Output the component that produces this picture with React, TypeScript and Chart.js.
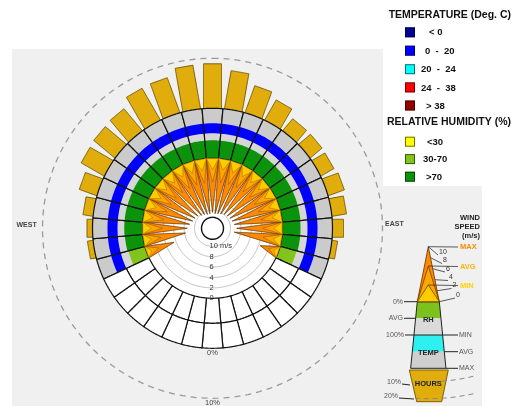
import React, { useEffect, useRef } from 'react';
import { Chart, registerables } from 'chart.js';
Chart.register(...registerables);

// ---------------- DATA ----------------
// bearings (deg clockwise from north) of the sectors that carry data
const SECTOR_BEARINGS = [250, 260, 270, 280, 290, 300, 310, 320, 330, 340, 350, 0, 10, 20, 30, 40, 50, 60, 70, 80, 90, 100, 110];
// share of hours (%) per sector
const HOURS_PCT = [0, 1.1, 1.1, 2.0, 3.7, 5.3, 5.5, 5.7, 7.3, 7.4, 8.8, 8.9, 7.7, 5.7, 4.6, 3.1, 3.1, 3.0, 3.4, 2.9, 2.2, 1.1, 0];
// wind speed (m/s)
const WIND_MAX = [5.6, 8.2, 8.6, 9.0, 9.4, 9.6, 9.8, 10.2, 10.4, 10.6, 10.6, 10.4, 10.6, 10.5, 10.3, 10.0, 9.8, 9.6, 9.4, 9.2, 8.8, 9.2, 3.7];
const WIND_AVG = [2.4, 3.4, 3.8, 4.0, 4.2, 4.3, 4.4, 4.5, 4.6, 4.6, 4.7, 4.6, 4.6, 4.5, 4.4, 4.3, 4.2, 4.2, 4.1, 4.0, 3.8, 3.6, 2.0];
const WIND_MIN = [1.0, 1.5, 1.7, 1.8, 1.9, 2.0, 2.0, 2.1, 2.1, 2.2, 2.2, 2.2, 2.1, 2.1, 2.0, 2.0, 1.9, 1.9, 1.9, 1.8, 1.7, 1.6, 0.9];
// relative humidity average (%)
const RH_AVG = [68, 72, 73, 73, 72, 72, 72, 71, 71, 71, 72, 72, 72, 72, 72, 73, 73, 73, 73, 73, 72, 72, 68];
// dry bulb temperature (deg C)
const TEMP_MIN = [6, 6, 6, 6, 6, 6, 6, 6, 6, 6, 6, 6, 6, 6, 6, 6, 6, 6, 6, 6, 6, 6, 6];
const TEMP_AVG = [11, 11, 11, 11, 11, 11, 11, 11, 11, 11, 11, 11, 11, 11, 11, 11, 11, 11, 11, 11, 11, 11, 11];
const TEMP_MAX = [18.5, 18.5, 18.5, 18.5, 18.5, 18.5, 18.5, 18.5, 18.5, 18.5, 18.5, 18.5, 18.5, 18.5, 18.5, 18.5, 18.5, 18.5, 18.5, 18.5, 18.5, 18.5, 18.5];
// sectors without data
const EMPTY_BEARINGS = [120, 130, 140, 150, 160, 170, 180, 190, 200, 210, 220, 230, 240];
// axis ticks
const SPEED_TICKS = [0, 2, 4, 6, 8, 10];
const PCT_TICKS = [0, 10];
// legends
const TEMP_LEGEND = ['< 0', '0  -  20', '20  -  24', '24  -  38', '> 38'];
const RH_LEGEND = ['<30', '30-70', '>70'];

// ---------------- LAYOUT / STYLE ----------------
const W = 531, H = 406;
const CX = 212.5, CY = 228.3;
const R_WIND = 70, SPEED_PX = 5.2, R_RH_OUT = 95, R_TEMP_OUT = 120, PCT_PX = 5, BAR_W = 18, R_HUB = 11;
const HALF = 5;
const TEMP_COLORS = ['#000099', '#0000ff', '#00ffff', '#ff0000', '#990000'];
const RH_COLORS = ['#ffff00', '#80c41c', '#0b940b'];
const TEMP_LEG_X = [429, 425, 421, 421, 426];
const RH_LEG_X = [427, 423, 426];
const FONT = '"Liberation Sans", Arial, sans-serif';

const speedR = (s: number) => R_WIND - SPEED_PX * s;
const pctR = (p: number) => R_TEMP_OUT + PCT_PX * p;
const rhR = (h: number) => R_WIND + (R_RH_OUT - R_WIND) * h / 100;
const tempR = (mn: number, av: number, mx: number) => R_RH_OUT + (R_TEMP_OUT - R_RH_OUT) * (av - mn) / (mx - mn);
const tempColor = (t: number) => (t < 0 ? TEMP_COLORS[0] : t < 20 ? TEMP_COLORS[1] : t < 24 ? TEMP_COLORS[2] : t < 38 ? TEMP_COLORS[3] : TEMP_COLORS[4]);
const rhColor = (h: number) => (h < 30 ? RH_COLORS[0] : h <= 70 ? RH_COLORS[1] : RH_COLORS[2]);

const toXY = (b: number, r: number) => {
  const a = (b * Math.PI) / 180;
  return { x: r * Math.sin(a), y: r * Math.cos(a) };
};
const arcPts = (b0: number, b1: number, r: number, steps: number) => {
  const out: any[] = [];
  for (let i = 0; i <= steps; i++) out.push(toXY(b0 + ((b1 - b0) * i) / steps, r));
  return out;
};
const cellPts = (b: number, r0: number, r1: number) => [...arcPts(b - HALF, b + HALF, r0, 6), ...arcPts(b + HALF, b - HALF, r1, 6)];

function buildDatasets() {
  const ds: any[] = [];
  const add = (pts: any[], o: any) => {
    ds.push({
      data: o.open ? pts : [...pts, pts[0]],
      fill: o.fill ? 'shape' : false,
      backgroundColor: o.fill || 'transparent',
      borderColor: o.stroke || 'transparent',
      borderWidth: o.width || 0,
      borderDash: o.dash || [1, 0],
      borderJoinStyle: 'round',
      pointRadius: 0,
      pointHoverRadius: 0,
      tension: 0,
      clip: false,
    });
  };
  // 10% dashed circle
  add(arcPts(0, 360, pctR(PCT_TICKS[1]), 180), { stroke: '#9a9a9a', width: 1.3, dash: [6, 5], open: true });
  // hours bars
  SECTOR_BEARINGS.forEach((b, i) => {
    const p = HOURS_PCT[i];
    if (p <= 0) return;
    const a = (b * Math.PI) / 180;
    const ux = Math.sin(a), uy = Math.cos(a), vx = Math.cos(a), vy = -Math.sin(a);
    const r0 = R_TEMP_OUT - 2, r1 = pctR(p), h = BAR_W / 2;
    add(
      [
        { x: r0 * ux - h * vx, y: r0 * uy - h * vy },
        { x: r1 * ux - h * vx, y: r1 * uy - h * vy },
        { x: r1 * ux + h * vx, y: r1 * uy + h * vy },
        { x: r0 * ux + h * vx, y: r0 * uy + h * vy },
      ],
      { fill: '#e0ad0d', stroke: '#6e5300', width: 0.9 }
    );
  });
  // white interior
  add(arcPts(0, 360, R_WIND, 120), { fill: '#ffffff' });
  // cells with data
  SECTOR_BEARINGS.forEach((b, i) => {
    add(cellPts(b, R_WIND, R_RH_OUT), { fill: '#d6d6d6' });
    add(cellPts(b, R_RH_OUT, R_TEMP_OUT), { fill: '#cbcbcb' });
    add(cellPts(b, R_WIND, rhR(RH_AVG[i])), { fill: rhColor(RH_AVG[i]) });
    add(cellPts(b, R_RH_OUT, tempR(TEMP_MIN[i], TEMP_AVG[i], TEMP_MAX[i])), { fill: tempColor(TEMP_AVG[i]) });
    add(cellPts(b, R_WIND, R_TEMP_OUT), { stroke: '#111', width: 1.2 });
  });
  // empty cells
  EMPTY_BEARINGS.forEach((b) => {
    add(cellPts(b, R_WIND, R_RH_OUT), { fill: '#ffffff', stroke: '#111', width: 1.2 });
    add(cellPts(b, R_RH_OUT, R_TEMP_OUT), { fill: '#ffffff', stroke: '#111', width: 1.2 });
  });
  // speed circles
  SPEED_TICKS.filter((s) => s > 0).forEach((s) => add(arcPts(0, 360, speedR(s), 100), { stroke: '#b8b8b8', width: 0.9, open: true }));
  // wind triangles
  const tri = (b: number, s: number) => [toXY(b - HALF, R_WIND), toXY(b, speedR(s)), toXY(b + HALF, R_WIND)];
  SECTOR_BEARINGS.forEach((b, i) => add(tri(b, WIND_MAX[i]), { fill: '#ff8a00', stroke: '#5e3000', width: 0.8 }));
  SECTOR_BEARINGS.forEach((b, i) => add(tri(b, WIND_AVG[i]), { fill: '#ffa600', stroke: 'rgba(110,60,0,0.7)', width: 0.6 }));
  SECTOR_BEARINGS.forEach((b, i) => add(tri(b, WIND_MIN[i]), { fill: '#ffcc00', stroke: 'rgba(110,70,0,0.6)', width: 0.6 }));
  // hub
  add(arcPts(0, 360, R_HUB, 60), { fill: '#ffffff', stroke: '#111', width: 1.4 });
  return ds.reverse();
}

const panelsPlugin = {
  id: 'panels',
  beforeDraw(chart: any) {
    const ctx = chart.ctx;
    ctx.save();
    ctx.fillStyle = '#ffffff';
    ctx.fillRect(0, 0, chart.width, chart.height);
    ctx.fillStyle = '#f0f0f0';
    ctx.fillRect(12, 49, 371, 357);
    ctx.fillRect(380, 186, 102, 220);
    ctx.restore();
  },
};

function drawKey(ctx: CanvasRenderingContext2D) {
  const ax = 428.3, ay = 191.7;
  const hw = (yy: number) => (yy - ay) * 0.1;
  const Y_BASE = 301.7, Y_RHAVG = 318.3, Y_100 = 335, Y_TAVG = 351.7, Y_MAX = 368.3;
  const band = (y0: number, y1: number, color: string) => {
    ctx.beginPath();
    ctx.moveTo(ax - hw(y0), y0);
    ctx.lineTo(ax + hw(y0), y0);
    ctx.lineTo(ax + hw(y1), y1);
    ctx.lineTo(ax - hw(y1), y1);
    ctx.closePath();
    ctx.fillStyle = color;
    ctx.fill();
  };
  band(Y_BASE, Y_RHAVG, '#7cc21c');
  band(Y_RHAVG, Y_100, '#dadada');
  band(Y_100, Y_TAVG, '#2ef0f0');
  band(Y_TAVG, Y_MAX, '#cfcfcf');
  // hours
  ctx.beginPath();
  ctx.moveTo(409.3, 370);
  ctx.lineTo(448.3, 370);
  ctx.lineTo(441.7, 401.7);
  ctx.lineTo(416.7, 401.7);
  ctx.closePath();
  ctx.fillStyle = '#e0ad0d';
  ctx.fill();
  ctx.strokeStyle = '#6e5300';
  ctx.lineWidth = 0.9;
  ctx.stroke();
  // dashed % arcs
  ctx.save();
  ctx.setLineDash([5, 4]);
  ctx.strokeStyle = '#888';
  ctx.lineWidth = 1;
  [190, 207].forEach((r) => {
    ctx.beginPath();
    ctx.arc(ax, ay, r, Math.acos(45 / r), Math.acos(-12 / r), false);
    ctx.stroke();
  });
  ctx.restore();
  // outlines
  ctx.strokeStyle = '#222';
  ctx.lineWidth = 1;
  ctx.beginPath();
  ctx.moveTo(ax - hw(Y_BASE), Y_BASE);
  ctx.lineTo(ax - hw(Y_MAX), Y_MAX);
  ctx.moveTo(ax + hw(Y_BASE), Y_BASE);
  ctx.lineTo(ax + hw(Y_MAX), Y_MAX);
  ctx.moveTo(404, Y_BASE);
  ctx.lineTo(ax + hw(Y_BASE), Y_BASE);
  ctx.moveTo(404, Y_RHAVG);
  ctx.lineTo(ax - hw(Y_RHAVG), Y_RHAVG);
  ctx.moveTo(405, Y_100);
  ctx.lineTo(458, Y_100);
  ctx.moveTo(ax + hw(Y_TAVG), Y_TAVG);
  ctx.lineTo(458, Y_TAVG);
  ctx.moveTo(ax - hw(Y_MAX), Y_MAX);
  ctx.lineTo(458, Y_MAX);
  ctx.moveTo(402, 384);
  ctx.lineTo(410, 385);
  ctx.moveTo(399, 398);
  ctx.lineTo(414, 399);
  ctx.stroke();
  // wind triangles
  const tri = (tip: number, fill: string, stroke: string) => {
    ctx.beginPath();
    ctx.moveTo(ax - hw(Y_BASE), Y_BASE);
    ctx.lineTo(ax, tip);
    ctx.lineTo(ax + hw(Y_BASE), Y_BASE);
    ctx.closePath();
    ctx.fillStyle = fill;
    ctx.fill();
    ctx.strokeStyle = stroke;
    ctx.lineWidth = 0.8;
    ctx.stroke();
  };
  tri(246.7, '#ff8a00', '#5e3000');
  tri(266, '#ffa600', '#6e3c00');
  tri(285, '#ffcc00', '#6e4600');
  // speed ticks on key
  const sy = (s: number) => Y_BASE - s * 5.5;
  const lab = [
    ['10', 439, 252],
    ['8', 443, 260.5],
    ['6', 446, 269],
    ['4', 449, 277.5],
    ['2', 452.5, 285.5],
    ['0', 456, 295],
  ];
  const ks = [10, 8, 6, 4, 2, 0];
  ctx.strokeStyle = '#333';
  ctx.lineWidth = 0.8;
  ks.forEach((s, i) => {
    const yy = sy(s);
    const ex = ax + ((yy - 246.7) / (Y_BASE - 246.7)) * hw(Y_BASE);
    ctx.beginPath();
    ctx.moveTo(ex, yy);
    ctx.lineTo((lab[i][1] as number) - 1, (lab[i][2] as number) + 3);
    ctx.stroke();
  });
  // tip leaders
  ctx.strokeStyle = '#333';
  ctx.beginPath();
  ctx.moveTo(ax, 246.7);
  ctx.lineTo(458, 247);
  ctx.moveTo(ax, 266);
  ctx.lineTo(458, 266.5);
  ctx.moveTo(ax, 285);
  ctx.lineTo(458, 285.5);
  ctx.stroke();

  ctx.textBaseline = 'middle';
  ctx.font = `7px ${FONT}`;
  ctx.fillStyle = '#333';
  ctx.textAlign = 'left';
  lab.forEach((l) => ctx.fillText(l[0] as string, l[1] as number, l[2] as number));

  ctx.font = `bold 7.5px ${FONT}`;
  ctx.fillStyle = '#ff8a00';
  ctx.fillText('MAX', 460, 247);
  ctx.fillStyle = '#ffb300';
  ctx.fillText('AVG', 460, 266.5);
  ctx.fillStyle = '#ffd200';
  ctx.fillText('MIN', 460, 285.5);

  ctx.font = `7px ${FONT}`;
  ctx.fillStyle = '#555';
  ctx.fillText('MIN', 459, Y_100);
  ctx.fillText('AVG', 459, Y_TAVG);
  ctx.fillText('MAX', 459, Y_MAX);
  ctx.textAlign = 'right';
  ctx.fillText('0%', 403, Y_BASE);
  ctx.fillText('AVG', 403, Y_RHAVG);
  ctx.fillText('100%', 404, Y_100);
  ctx.fillText('10%', 401, 382);
  ctx.fillText('20%', 398, 396.5);

  ctx.font = `bold 7.5px ${FONT}`;
  ctx.fillStyle = '#222';
  ctx.fillText('WIND', 480, 217.5);
  ctx.fillText('SPEED', 480, 226.5);
  ctx.fillText('(m/s)', 480, 235.5);

  ctx.textAlign = 'center';
  ctx.fillStyle = '#222';
  ctx.fillText('RH', ax, 320);
  ctx.fillText('TEMP', ax, 353);
  ctx.fillText('HOURS', ax, 384);
}

const labelsPlugin = {
  id: 'labels',
  afterDatasetsDraw(chart: any) {
    const ctx = chart.ctx as CanvasRenderingContext2D;
    const { x, y } = chart.scales;
    ctx.save();
    ctx.textBaseline = 'middle';
    // speed labels
    ctx.font = `7.5px ${FONT}`;
    ctx.fillStyle = '#333';
    ctx.textAlign = 'left';
    SPEED_TICKS.forEach((s) => {
      ctx.fillText(s === 10 ? '10 m/s' : String(s), x.getPixelForValue(-3), y.getPixelForValue(-speedR(s)));
    });
    // percent labels
    ctx.textAlign = 'center';
    ctx.fillStyle = '#444';
    PCT_TICKS.forEach((p) => {
      ctx.fillText(p + '%', x.getPixelForValue(0), y.getPixelForValue(-(pctR(p) + 4.5)));
    });
    // compass labels
    ctx.font = `bold 7px ${FONT}`;
    ctx.fillStyle = '#444';
    ctx.textAlign = 'left';
    ctx.fillText('WEST', 16.5, 225);
    ctx.fillText('EAST', 385, 224.5);

    // legend
    ctx.textAlign = 'right';
    ctx.fillStyle = '#111';
    ctx.font = `bold 10.5px ${FONT}`;
    ctx.fillText('TEMPERATURE (Deg. C)', 511, 15);
    ctx.fillText('RELATIVE HUMIDITY (%)', 511, 121.7);
    ctx.textAlign = 'left';
    ctx.font = `bold 9.5px ${FONT}`;
    const tempY = [32.3, 50.7, 69.2, 87.4, 105.5];
    TEMP_LEGEND.forEach((t, i) => {
      ctx.fillStyle = TEMP_COLORS[i];
      ctx.fillRect(405, tempY[i] - 5, 10, 10);
      ctx.strokeStyle = 'rgba(0,0,0,0.55)';
      ctx.lineWidth = 1;
      ctx.strokeRect(405.5, tempY[i] - 4.5, 9, 9);
      ctx.fillStyle = '#111';
      ctx.fillText(t, TEMP_LEG_X[i], tempY[i] + 0.5);
    });
    const rhY = [141.7, 159.1, 176.7];
    RH_LEGEND.forEach((t, i) => {
      ctx.fillStyle = RH_COLORS[i];
      ctx.fillRect(405, rhY[i] - 5, 10, 10);
      ctx.strokeStyle = 'rgba(0,0,0,0.55)';
      ctx.lineWidth = 1;
      ctx.strokeRect(405.5, rhY[i] - 4.5, 9, 9);
      ctx.fillStyle = '#111';
      ctx.fillText(t, RH_LEG_X[i], rhY[i] + 0.5);
    });

    drawKey(ctx);
    ctx.restore();
  },
};

export default function App() {
  const ref = useRef<HTMLCanvasElement>(null);
  useEffect(() => {
    document.body.style.margin = '0';
    document.body.style.overflow = 'hidden';
    const chart = new Chart(ref.current as HTMLCanvasElement, {
      type: 'line',
      data: { datasets: buildDatasets() },
      options: {
        responsive: false,
        animation: false,
        events: [],
        devicePixelRatio: 1,
        layout: { padding: 0 },
        scales: {
          x: { type: 'linear', min: -CX, max: W - CX, display: false },
          y: { type: 'linear', min: -(H - CY), max: CY, display: false },
        },
        plugins: { legend: { display: false }, tooltip: { enabled: false }, filler: { propagate: false } },
      },
      plugins: [panelsPlugin, labelsPlugin],
    } as any);
    return () => chart.destroy();
  }, []);
  return <canvas ref={ref} width={W} height={H} style={{ display: 'block' }} />;
}
